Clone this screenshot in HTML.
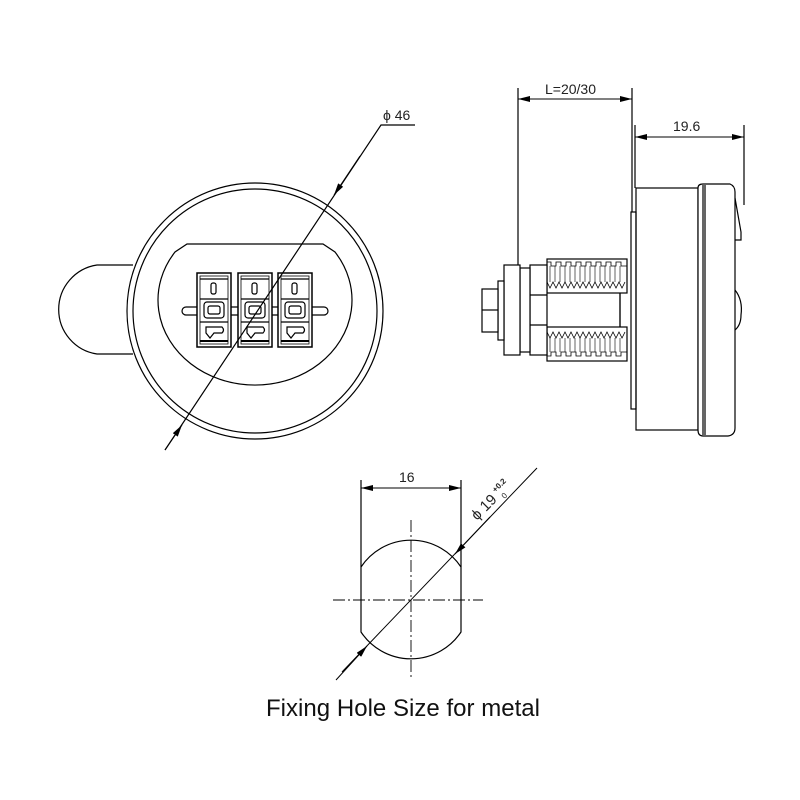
<!DOCTYPE html>
<html><head><meta charset="utf-8"><style>html,body{margin:0;padding:0;background:#fff}svg{display:block}</style></head>
<body>
<svg width="800" height="800" viewBox="0 0 800 800" xmlns="http://www.w3.org/2000/svg" font-family="Liberation Sans, sans-serif">
<defs>
<marker id="ar" viewBox="0 0 12 6" refX="12" refY="3" markerWidth="12" markerHeight="6" markerUnits="userSpaceOnUse" orient="auto"><path d="M0,0 L12,3 L0,6 z" fill="#000"/></marker>
<marker id="al" viewBox="0 0 12 6" refX="0" refY="3" markerWidth="12" markerHeight="6" markerUnits="userSpaceOnUse" orient="auto"><path d="M12,0 L0,3 L12,6 z" fill="#000"/></marker>
</defs>
<g fill="none" stroke="#000" stroke-width="1.2">
<!-- front view -->
<path d="M133,265 L97,265 A45,45 0 0 0 97,354 L133,354"/>
<circle cx="255" cy="311" r="128" fill="#fff"/>
<circle cx="255" cy="311" r="122"/>
<path d="M187,244 L323,244 L335,252 A97,85 0 1 1 175,252 Z"/>
<rect x="182" y="307" width="146" height="8" rx="4" fill="#fff"/>
<g id="dial">
<rect x="197" y="273" width="34" height="74" fill="#fff" stroke-width="1.5"/>
<rect x="200" y="276" width="28" height="68" stroke-width="0.8"/>
<line x1="200" y1="279" x2="228" y2="279"/>
<line x1="200" y1="341" x2="228" y2="341" stroke-width="2"/>
<rect x="211" y="283" width="5" height="11" rx="2"/>
<line x1="200" y1="299" x2="228" y2="299"/>
<rect x="204" y="302" width="20" height="16" rx="3"/>
<rect x="208" y="306" width="12" height="8" rx="2"/>
<line x1="200" y1="322" x2="228" y2="322"/>
<path d="M206,327 L222,327 Q225,330 222,333 L214,333 L210,338 L206,333 Z"/>
</g>
<use href="#dial" x="41"/>
<use href="#dial" x="81"/>
<!-- phi46 -->
<path d="M415,125 L381,125 L165,450"/>
<line x1="360" y1="156" x2="334" y2="195" marker-end="url(#ar)" stroke-width="1"/>
<line x1="165" y1="450" x2="182" y2="425" marker-end="url(#ar)" stroke-width="1"/>
<!-- side view -->
<line x1="518" y1="88" x2="518" y2="268"/>
<line x1="632" y1="88" x2="632" y2="212"/>
<line x1="518" y1="99" x2="632" y2="99" marker-start="url(#al)" marker-end="url(#ar)" stroke-width="1"/>
<line x1="635" y1="125" x2="635" y2="188"/>
<line x1="744" y1="125" x2="744" y2="205"/>
<line x1="635" y1="137" x2="744" y2="137" marker-start="url(#al)" marker-end="url(#ar)" stroke-width="1"/>
<rect x="631" y="212" width="5" height="197"/>
<rect x="636" y="188" width="62" height="242"/>
<path d="M698,188 Q698,184 703,184 L730,184 Q735,186 735,192 L735,428 Q735,435 728,436 L703,436 Q698,436 698,430 Z" fill="#fff"/>
<line x1="703" y1="185" x2="703" y2="435"/>
<line x1="705" y1="185" x2="705" y2="435"/>
<path d="M735,198 L741,232 L741,240 L735,240"/>
<path d="M735,290 Q743,300 741,315 Q741,325 735,330"/>
<rect x="540" y="292" width="80" height="36" fill="#fff"/>
<rect x="547" y="259" width="80" height="34" fill="#fff"/>
<rect x="547" y="327" width="80" height="34" fill="#fff"/>
<path d="M547,262 l4,0 l0,4 l5,0 l0,-4 l5,0 l0,4 l5,0 l0,-4 l5,0 l0,4 l5,0 l0,-4 l5,0 l0,4 l5,0 l0,-4 l5,0 l0,4 l5,0 l0,-4 l5,0 l0,4 l5,0 l0,-4 l5,0 l0,4 l5,0 l0,-4 l5,0 l0,4 l6,0" stroke-width="0.8"/>
<path d="M547,282 l3,6 l3,-6 l3,6 l3,-6 l3,6 l3,-6 l3,6 l3,-6 l3,6 l3,-6 l3,6 l3,-6 l3,6 l3,-6 l3,6 l3,-6 l3,6 l3,-6 l3,6 l3,-6 l3,6 l3,-6 l3,6 l3,-6 l3,6 l3,-6" stroke-width="0.8"/>
<path d="M547,332 l3,6 l3,-6 l3,6 l3,-6 l3,6 l3,-6 l3,6 l3,-6 l3,6 l3,-6 l3,6 l3,-6 l3,6 l3,-6 l3,6 l3,-6 l3,6 l3,-6 l3,6 l3,-6 l3,6 l3,-6 l3,6 l3,-6 l3,6 l3,-6" stroke-width="0.8"/>
<path d="M547,356 l4,0 l0,-4 l5,0 l0,4 l5,0 l0,-4 l5,0 l0,4 l5,0 l0,-4 l5,0 l0,4 l5,0 l0,-4 l5,0 l0,4 l5,0 l0,-4 l5,0 l0,4 l5,0 l0,-4 l5,0 l0,4 l5,0 l0,-4 l5,0 l0,4 l5,0 l0,-4 l6,0" stroke-width="0.8"/>
<g stroke-width="0.6">
<path d="M550,266 v16 M555,266 v16 M560,266 v16 M565,266 v16 M570,266 v16 M575,266 v16 M580,266 v16 M585,266 v16 M590,266 v16 M595,266 v16 M600,266 v16 M605,266 v16 M610,266 v16 M615,266 v16 M620,266 v16"/>
<path d="M550,338 v14 M555,338 v14 M560,338 v14 M565,338 v14 M570,338 v14 M575,338 v14 M580,338 v14 M585,338 v14 M590,338 v14 M595,338 v14 M600,338 v14 M605,338 v14 M610,338 v14 M615,338 v14 M620,338 v14"/>
</g>
<line x1="620" y1="293" x2="620" y2="327"/>
<rect x="530" y="265" width="17" height="90" fill="#fff"/>
<line x1="530" y1="295" x2="547" y2="295"/>
<line x1="530" y1="325" x2="547" y2="325"/>
<rect x="520" y="268" width="10" height="84" fill="#fff"/>
<rect x="504" y="265" width="16" height="90" fill="#fff"/>
<rect x="498" y="281" width="6" height="59" fill="#fff"/>
<rect x="482" y="289" width="16" height="43" fill="#fff"/>
<line x1="482" y1="310" x2="498" y2="310"/>
<!-- fixing hole -->
<line x1="361" y1="480" x2="361" y2="567"/>
<line x1="461" y1="480" x2="461" y2="567"/>
<line x1="361" y1="488" x2="461" y2="488" marker-start="url(#al)" marker-end="url(#ar)" stroke-width="1"/>
<path d="M361,567 A60,60 0 0 1 461,567 L461,632 A60,60 0 0 1 361,632 Z"/>
<g stroke-dasharray="12,3,2,3" stroke-width="0.9">
<line x1="333" y1="600" x2="483" y2="600"/>
<line x1="411" y1="520" x2="411" y2="680"/>
</g>
<line x1="537" y1="468" x2="342" y2="672" stroke-width="1"/>
<line x1="490" y1="517" x2="455" y2="554" marker-end="url(#ar)" stroke-width="1"/>
<line x1="336" y1="680" x2="367" y2="646" marker-end="url(#ar)" stroke-width="1"/>
</g>
<g fill="#222" font-size="14">
<text x="383" y="120">ϕ 46</text>
<text x="545" y="94">L=20/30</text>
<text x="673" y="131">19.6</text>
<text x="399" y="482">16</text>
<g transform="translate(477,521) rotate(-45)"><text x="0" y="0" font-size="15">ϕ 19</text><text x="33" y="-7" font-size="8" font-weight="bold">+0.2</text><text x="35" y="4" font-size="8">0</text></g>
<text x="266" y="716" font-size="24" textLength="274" fill="#111">Fixing Hole Size for metal</text>
</g>
</svg>
</body></html>
